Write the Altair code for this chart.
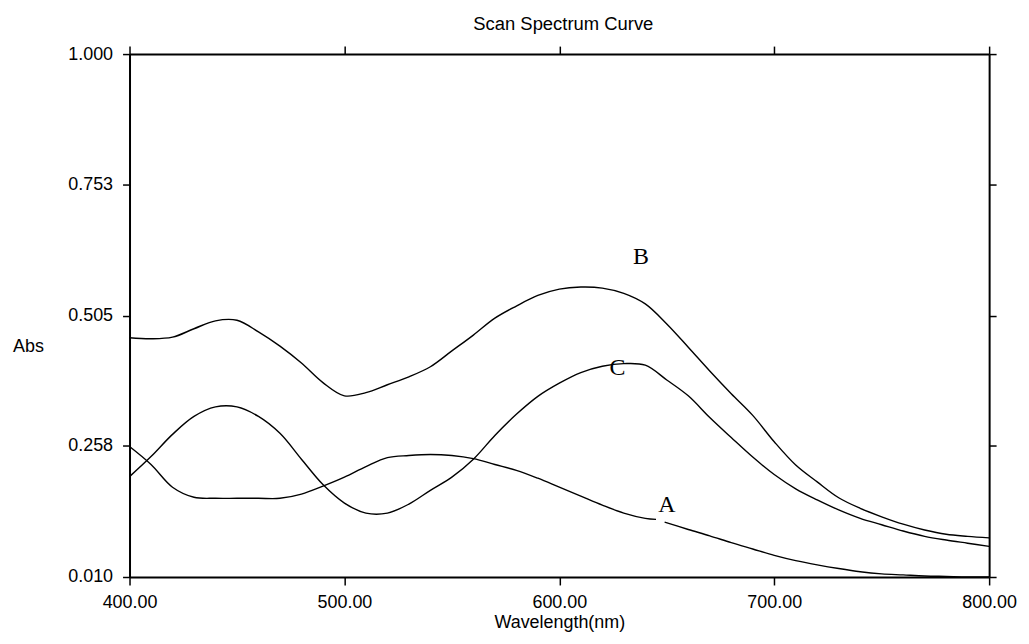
import altair as alt
import pandas as pd

# ---- data ----
wavelength = list(range(400, 801, 10))

abs_B = [0.463, 0.461, 0.464, 0.480, 0.495, 0.496, 0.474, 0.447, 0.415, 0.378,
         0.353, 0.359, 0.374, 0.389, 0.408, 0.438, 0.468, 0.500, 0.523, 0.543,
         0.555, 0.559, 0.557, 0.547, 0.527, 0.489, 0.445, 0.400, 0.357, 0.316,
         0.266, 0.222, 0.190, 0.160, 0.140, 0.124, 0.110, 0.099, 0.091, 0.087, 0.084]

abs_C = [0.200, 0.238, 0.280, 0.314, 0.332, 0.332, 0.314, 0.282, 0.233, 0.185,
         0.150, 0.131, 0.131, 0.148, 0.174, 0.199, 0.233, 0.278, 0.318, 0.352,
         0.377, 0.397, 0.409, 0.414, 0.411, 0.383, 0.353, 0.312, 0.274, 0.237,
         0.204, 0.177, 0.156, 0.137, 0.121, 0.109, 0.097, 0.087, 0.080, 0.074, 0.068]

# curve A is interrupted under its label
wl_A1 = [400, 410, 420, 430, 440, 450, 460, 470, 480, 490,
         500, 510, 520, 530, 540, 550, 560, 570, 580, 590,
         600, 610, 620, 630, 640, 645]
abs_A1 = [0.257, 0.223, 0.180, 0.161, 0.159, 0.159, 0.159, 0.159, 0.167, 0.182,
          0.199, 0.219, 0.236, 0.240, 0.242, 0.240, 0.234, 0.223, 0.212, 0.197,
          0.180, 0.163, 0.146, 0.131, 0.121, 0.119]
wl_A2 = [649, 660, 670, 680, 690, 700, 710, 720, 730, 740, 750, 760, 770, 780, 790, 800]
abs_A2 = [0.114, 0.100, 0.088, 0.075, 0.063, 0.051, 0.041, 0.033, 0.026, 0.020,
          0.016, 0.014, 0.012, 0.011, 0.010, 0.010]

label_names = ["A", "B", "C"]
label_wl = [650, 638, 627]
label_abs = [0.146, 0.615, 0.406]

x_ticks = [400, 500, 600, 700, 800]
y_ticks = [0.010, 0.258, 0.505, 0.753, 1.000]

# ---- tables ----
rows = []
for w, a in zip(wavelength, abs_B):
    rows.append({"wl": w, "abs": a, "seg": "B"})
for w, a in zip(wavelength, abs_C):
    rows.append({"wl": w, "abs": a, "seg": "C"})
for w, a in zip(wl_A1, abs_A1):
    rows.append({"wl": w, "abs": a, "seg": "A1"})
for w, a in zip(wl_A2, abs_A2):
    rows.append({"wl": w, "abs": a, "seg": "A2"})
df = pd.DataFrame(rows)
labels_df = pd.DataFrame({"name": label_names, "wl": label_wl, "abs": label_abs})

FONT = "Liberation Sans"
xscale = alt.Scale(domain=[400, 800], nice=False, zero=False)
yscale = alt.Scale(domain=[0.010, 1.000], nice=False, zero=False)

common_axis = dict(domainColor="black", domainWidth=2, tickColor="black", tickWidth=1.5,
                   grid=False, labelColor="black", labelFont=FONT, labelFontSize=18,
                   labelFlush=False,
                   titleColor="black", titleFont=FONT, titleFontSize=18,
                   titleFontWeight="normal")

lines = alt.Chart(df).mark_line(color="black", strokeWidth=1.4, interpolate="catmull-rom").encode(
    x=alt.X("wl:Q", scale=xscale,
            axis=alt.Axis(orient="bottom", values=x_ticks, format=".2f", tickSize=8,
                          labelPadding=9, title="Wavelength(nm)",
                          titleBaseline="alphabetic", titleY=51, **common_axis)),
    y=alt.Y("abs:Q", scale=yscale,
            axis=alt.Axis(orient="left", values=y_ticks, format=".3f", tickSize=7,
                          labelPadding=10, title="Abs", titleAngle=0, titleAlign="center",
                          titleBaseline="alphabetic", titleX=-102, titleY=299,
                          **common_axis)),
    detail="seg:N",
)

texts = alt.Chart(labels_df).mark_text(font="Liberation Serif", fontSize=24, color="black",
                                       align="center", baseline="middle").encode(
    x=alt.X("wl:Q", scale=xscale,
            axis=alt.Axis(orient="top", values=x_ticks, labels=False, tickSize=8,
                          title=None, **common_axis)),
    y=alt.Y("abs:Q", scale=yscale,
            axis=alt.Axis(orient="right", values=y_ticks, labels=False, tickSize=7,
                          title=None, **common_axis)),
    text="name:N",
)

chart = alt.layer(lines, texts).resolve_axis(x="independent", y="independent").properties(
    width=863,
    height=525,
    autosize="none",
    padding={"left": 122, "top": 45, "right": 32, "bottom": 62},
    background="white",
    title=alt.TitleParams("Scan Spectrum Curve", font=FONT, fontSize=18.5, fontWeight="normal",
                          color="black", anchor="middle", frame="group", dx=4, dy=20,
                          baseline="alphabetic", offset=17),
).configure_view(stroke=None)

chart.save("out.html", embed_options={"renderer": "svg", "actions": False})
